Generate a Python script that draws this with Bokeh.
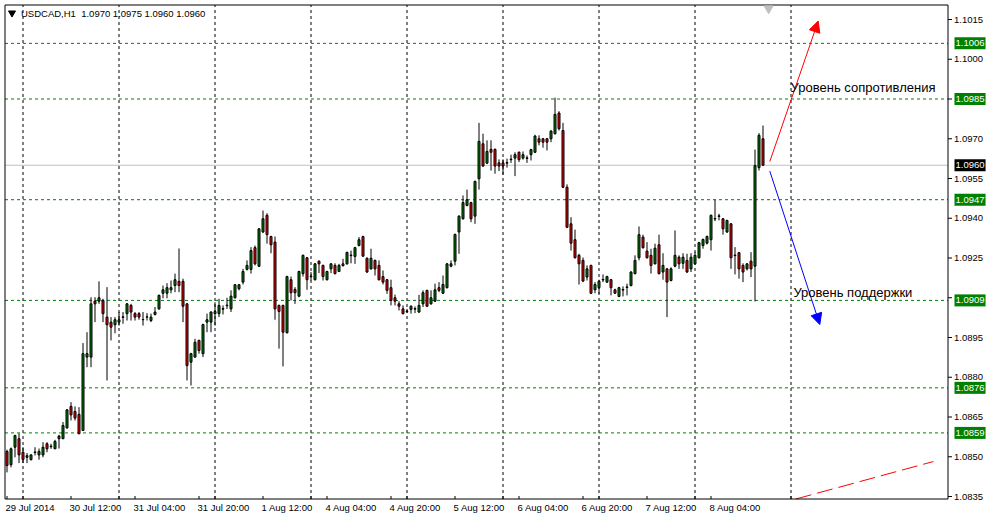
from bokeh.plotting import figure
from bokeh.models import (Range1d, Label, LabelSet, ColumnDataSource, Arrow, NormalHead)
from bokeh.embed import file_html
from bokeh.resources import INLINE
from bokeh.core.properties import value

# ---------------- data (USDCAD, H1) ----------------
symbol = "USDCAD,H1"
last_ohlc = ["1.0970", "1.0975", "1.0960", "1.0960"]

open_ = [
    1.08520, 1.08470, 1.08536, 1.08568, 1.08517, 1.08498, 1.08489, 1.08516, 1.08507, 1.08507,
    1.08549, 1.08538, 1.08530, 1.08568, 1.08568, 1.08609, 1.08690, 1.08671, 1.08660, 1.08599,
    1.08876, 1.08876, 1.09087, 1.09087, 1.09090, 1.09027, 1.09008, 1.08998, 1.09008, 1.09026,
    1.09040, 1.09071, 1.09040, 1.09040, 1.09017, 1.09027, 1.09014, 1.09037, 1.09058, 1.09117,
    1.09117, 1.09130, 1.09146, 1.09162, 1.09162, 1.09077, 1.08857, 1.08876, 1.08939, 1.08889,
    1.09008, 1.09008, 1.09040, 1.09040, 1.09057, 1.09070, 1.09058, 1.09100, 1.09134, 1.09159,
    1.09207, 1.09207, 1.09289, 1.09219, 1.09348, 1.09411, 1.09331, 1.09310, 1.09071, 1.09071,
    1.08968, 1.09168, 1.09131, 1.09106, 1.09191, 1.09251, 1.09179, 1.09168, 1.09238, 1.09222,
    1.09168, 1.09209, 1.09222, 1.09199, 1.09228, 1.09228, 1.09259, 1.09256, 1.09297, 1.09331,
    1.09249, 1.09209, 1.09241, 1.09222, 1.09180, 1.09168, 1.09138, 1.09100, 1.09077, 1.09058,
    1.09048, 1.09056, 1.09057, 1.09046, 1.09077, 1.09128, 1.09077, 1.09087, 1.09138, 1.09117,
    1.09138, 1.09219, 1.09238, 1.09348, 1.09398, 1.09448, 1.09459, 1.09408, 1.09549, 1.09681,
    1.09608, 1.09660, 1.09660, 1.09609, 1.09609, 1.09608, 1.09621, 1.09627, 1.09649, 1.09627,
    1.09626, 1.09640, 1.09649, 1.09700, 1.09700, 1.09700, 1.09700, 1.09719, 1.09797, 1.09731,
    1.09517, 1.09379, 1.09319, 1.09260, 1.09241, 1.09178, 1.09222, 1.09130, 1.09138, 1.09167,
    1.09159, 1.09168, 1.09130, 1.09105, 1.09129, 1.09139, 1.09146, 1.09191, 1.09251, 1.09329,
    1.09276, 1.09260, 1.09228, 1.09300, 1.09197, 1.09209, 1.09165, 1.09219, 1.09253, 1.09230,
    1.09241, 1.09209, 1.09228, 1.09251, 1.09297, 1.09306, 1.09319, 1.09397, 1.09407, 1.09398,
    1.09348, 1.09379, 1.09259, 1.09270, 1.09222, 1.09209, 1.09238, 1.09219, 1.09591, 1.09700,
]
high = [
    1.08527, 1.08535, 1.08583, 1.08588, 1.08536, 1.08514, 1.08509, 1.08536, 1.08531, 1.08555,
    1.08555, 1.08549, 1.08564, 1.08583, 1.08631, 1.08680, 1.08706, 1.08690, 1.08687, 1.08929,
    1.08970, 1.09102, 1.09102, 1.09162, 1.09096, 1.09140, 1.09027, 1.09027, 1.09046, 1.09046,
    1.09080, 1.09077, 1.09046, 1.09046, 1.09046, 1.09042, 1.09040, 1.09065, 1.09112, 1.09146,
    1.09155, 1.09165, 1.09191, 1.09286, 1.09172, 1.09080, 1.08892, 1.08945, 1.08942, 1.09002,
    1.09040, 1.09049, 1.09083, 1.09096, 1.09071, 1.09100, 1.09128, 1.09152, 1.09152, 1.09209,
    1.09241, 1.09291, 1.09297, 1.09363, 1.09429, 1.09419, 1.09334, 1.09331, 1.09074, 1.09074,
    1.09183, 1.09180, 1.09140, 1.09202, 1.09263, 1.09254, 1.09197, 1.09231, 1.09241, 1.09225,
    1.09202, 1.09230, 1.09230, 1.09228, 1.09247, 1.09274, 1.09278, 1.09292, 1.09329, 1.09334,
    1.09252, 1.09285, 1.09244, 1.09241, 1.09203, 1.09171, 1.09168, 1.09112, 1.09087, 1.09071,
    1.09058, 1.09071, 1.09067, 1.09111, 1.09128, 1.09130, 1.09128, 1.09153, 1.09159, 1.09184,
    1.09231, 1.09241, 1.09342, 1.09411, 1.09486, 1.09508, 1.09462, 1.09542, 1.09760, 1.09719,
    1.09694, 1.09694, 1.09663, 1.09622, 1.09622, 1.09625, 1.09640, 1.09649, 1.09652, 1.09652,
    1.09637, 1.09662, 1.09715, 1.09713, 1.09703, 1.09702, 1.09732, 1.09855, 1.09804, 1.09760,
    1.09528, 1.09404, 1.09357, 1.09266, 1.09252, 1.09222, 1.09225, 1.09159, 1.09168, 1.09188,
    1.09183, 1.09171, 1.09134, 1.09141, 1.09143, 1.09153, 1.09200, 1.09260, 1.09369, 1.09338,
    1.09310, 1.09285, 1.09304, 1.09338, 1.09268, 1.09212, 1.09215, 1.09354, 1.09260, 1.09268,
    1.09266, 1.09268, 1.09272, 1.09311, 1.09323, 1.09335, 1.09414, 1.09470, 1.09417, 1.09401,
    1.09394, 1.09382, 1.09291, 1.09273, 1.09230, 1.09230, 1.09272, 1.09659, 1.09721, 1.09750,
]
low = [
    1.08441, 1.08460, 1.08498, 1.08476, 1.08476, 1.08476, 1.08486, 1.08505, 1.08489, 1.08498,
    1.08517, 1.08530, 1.08530, 1.08531, 1.08568, 1.08606, 1.08637, 1.08637, 1.08585, 1.08597,
    1.08838, 1.08838, 1.09008, 1.09077, 1.09008, 1.08788, 1.08939, 1.08966, 1.08995, 1.09002,
    1.09014, 1.09014, 1.09014, 1.09017, 1.08995, 1.09014, 1.09008, 1.09033, 1.09055, 1.09098,
    1.09098, 1.09117, 1.09121, 1.09121, 1.09008, 1.08788, 1.08769, 1.08874, 1.08889, 1.08876,
    1.08970, 1.08970, 1.08995, 1.09027, 1.09037, 1.09058, 1.09046, 1.09097, 1.09128, 1.09150,
    1.09203, 1.09191, 1.09222, 1.09216, 1.09345, 1.09304, 1.09268, 1.09017, 1.08908, 1.08841,
    1.08965, 1.09090, 1.09077, 1.09102, 1.09180, 1.09130, 1.09165, 1.09165, 1.09193, 1.09165,
    1.09165, 1.09193, 1.09188, 1.09197, 1.09218, 1.09225, 1.09230, 1.09228, 1.09294, 1.09254,
    1.09194, 1.09206, 1.09184, 1.09165, 1.09150, 1.09115, 1.09071, 1.09071, 1.09052, 1.09037,
    1.09042, 1.09040, 1.09042, 1.09043, 1.09065, 1.09065, 1.09074, 1.09084, 1.09121, 1.09114,
    1.09135, 1.09215, 1.09222, 1.09266, 1.09395, 1.09445, 1.09385, 1.09379, 1.09508, 1.09594,
    1.09605, 1.09580, 1.09568, 1.09578, 1.09565, 1.09591, 1.09609, 1.09559, 1.09612, 1.09621,
    1.09609, 1.09618, 1.09646, 1.09675, 1.09666, 1.09656, 1.09687, 1.09716, 1.09731, 1.09514,
    1.09363, 1.09278, 1.09248, 1.09150, 1.09159, 1.09165, 1.09114, 1.09117, 1.09115, 1.09159,
    1.09156, 1.09109, 1.09115, 1.09102, 1.09105, 1.09109, 1.09143, 1.09188, 1.09241, 1.09285,
    1.09248, 1.09191, 1.09226, 1.09188, 1.09168, 1.09027, 1.09162, 1.09215, 1.09209, 1.09209,
    1.09194, 1.09197, 1.09225, 1.09248, 1.09285, 1.09301, 1.09278, 1.09389, 1.09392, 1.09338,
    1.09345, 1.09209, 1.09188, 1.09172, 1.09159, 1.09203, 1.09178, 1.09086, 1.09580, 1.09600,
]
close = [
    1.08467, 1.08530, 1.08580, 1.08507, 1.08490, 1.08504, 1.08507, 1.08518, 1.08520, 1.08536,
    1.08530, 1.08540, 1.08558, 1.08578, 1.08618, 1.08677, 1.08658, 1.08646, 1.08587, 1.08889,
    1.08889, 1.09077, 1.09077, 1.09100, 1.09040, 1.08998, 1.08989, 1.09017, 1.09017, 1.09028,
    1.09077, 1.09046, 1.09027, 1.09027, 1.09018, 1.09028, 1.09027, 1.09046, 1.09109, 1.09130,
    1.09138, 1.09138, 1.09168, 1.09146, 1.09068, 1.08844, 1.08889, 1.08932, 1.08901, 1.08999,
    1.09017, 1.09046, 1.09048, 1.09071, 1.09059, 1.09072, 1.09106, 1.09149, 1.09149, 1.09199,
    1.09222, 1.09278, 1.09228, 1.09360, 1.09398, 1.09338, 1.09300, 1.09058, 1.09048, 1.08970,
    1.09180, 1.09119, 1.09119, 1.09199, 1.09260, 1.09168, 1.09181, 1.09228, 1.09228, 1.09180,
    1.09199, 1.09228, 1.09191, 1.09222, 1.09221, 1.09271, 1.09261, 1.09289, 1.09319, 1.09257,
    1.09197, 1.09249, 1.09209, 1.09168, 1.09159, 1.09128, 1.09090, 1.09087, 1.09068, 1.09040,
    1.09050, 1.09068, 1.09059, 1.09071, 1.09119, 1.09068, 1.09100, 1.09130, 1.09128, 1.09150,
    1.09228, 1.09228, 1.09339, 1.09408, 1.09459, 1.09470, 1.09398, 1.09539, 1.09690, 1.09597,
    1.09652, 1.09649, 1.09597, 1.09597, 1.09597, 1.09610, 1.09623, 1.09640, 1.09621, 1.09640,
    1.09628, 1.09659, 1.09710, 1.09687, 1.09687, 1.09687, 1.09729, 1.09792, 1.09738, 1.09517,
    1.09366, 1.09306, 1.09251, 1.09228, 1.09163, 1.09209, 1.09117, 1.09150, 1.09162, 1.09169,
    1.09180, 1.09138, 1.09117, 1.09138, 1.09131, 1.09141, 1.09197, 1.09241, 1.09338, 1.09289,
    1.09251, 1.09222, 1.09287, 1.09191, 1.09222, 1.09159, 1.09209, 1.09260, 1.09228, 1.09253,
    1.09197, 1.09253, 1.09260, 1.09308, 1.09320, 1.09331, 1.09411, 1.09399, 1.09409, 1.09360,
    1.09392, 1.09251, 1.09261, 1.09209, 1.09197, 1.09228, 1.09209, 1.09599, 1.09713, 1.09600,
]

# time axis (bar index of each label; one bar per hour)
time_labels = ["29 Jul 2014", "30 Jul 12:00", "31 Jul 04:00", "31 Jul 20:00", "1 Aug 12:00",
               "4 Aug 04:00", "4 Aug 20:00", "5 Aug 12:00", "6 Aug 04:00", "6 Aug 20:00",
               "7 Aug 12:00", "8 Aug 04:00"]
time_label_bars = [0, 16, 32, 48, 64, 80, 96, 112, 128, 144, 160, 176]
day_start_bars = [4, 28, 52, 76, 100, 124, 148, 172, 196]

price_ticks = [1.0835, 1.0850, 1.0865, 1.0880, 1.0895, 1.0910, 1.0925,
               1.0940, 1.0955, 1.0970, 1.0985, 1.1000, 1.1015]
levels = [1.1006, 1.0985, 1.0947, 1.0909, 1.0876, 1.0859]
bid_price = 1.0960

resistance_text = "Уровень сопротивления"
support_text = "Уровень поддержки"
resistance_text_pos = (195.9, 1.09893)
support_text_pos = (196.6, 1.09120)
resistance_arrow = (190.7, 1.09614, 202.8, 1.10144)
support_arrow = (190.7, 1.09578, 203.2, 1.08999)
trend_x = [187.6, 231.6]
trend_y = [1.08301, 1.08482]

# ---------------- layout (pixel geometry of the chart window) ----------------
W, H = 987, 514
PX_PER_BAR = 4.0
PX_PER_PRICE = 26500.0
X0 = -1.625                       # bar i is centred on pixel column 6 + 4 i
X1 = X0 + W / PX_PER_BAR
Y1 = 1.1015 + 19 / PX_PER_PRICE   # price at top edge
Y0 = Y1 - H / PX_PER_PRICE


def px_x(px):
    return X0 + px / PX_PER_BAR


def px_y(py):
    return Y1 - py / PX_PER_PRICE


C_LEFT, C_RIGHT = px_x(4.5), px_x(947.5)
C_TOP, C_BOTTOM = px_y(4.5), px_y(498.5)

FONT = "Liberation Sans"
SMALL = "9.5px"
GREEN = "#008000"

# ---------------- derived ----------------
n = len(open_)
assert len(high) == n and len(low) == n and len(close) == n
xs = list(range(n))
tops = [max(o, c) for o, c in zip(open_, close)]
bottoms = [min(o, c) for o, c in zip(open_, close)]
colors = [GREEN if c >= o else "#FF0000" for o, c in zip(open_, close)]
src = ColumnDataSource(dict(x=xs, open=open_, high=high, low=low, close=close,
                            top=tops, bottom=bottoms, color=colors))

p = figure(frame_width=W, frame_height=H, x_range=Range1d(X0, X1), y_range=Range1d(Y0, Y1),
           output_backend="svg", toolbar_location=None, title=None,
           x_axis_location=None, y_axis_location=None, min_border=0)
p.min_border_left = p.min_border_right = p.min_border_top = p.min_border_bottom = 0
p.background_fill_color = "white"
p.border_fill_color = "white"
p.outline_line_color = None
p.grid.visible = False

# vertical day grid (dashed black)
p.segment(x0=day_start_bars, y0=[C_BOTTOM] * len(day_start_bars),
          x1=day_start_bars, y1=[C_TOP] * len(day_start_bars),
          line_color="black", line_dash="3 3", line_width=1)

# level lines and bid line
p.segment(x0=[C_LEFT] * len(levels), y0=levels, x1=[C_RIGHT] * len(levels), y1=levels,
          line_color=GREEN, line_dash="3 3", line_width=1)
p.segment(x0=[C_LEFT], y0=[bid_price], x1=[C_RIGHT], y1=[bid_price],
          line_color="#C0C0C0", line_width=1)

# trend line (red dashed), clipped at the chart's bottom edge
slope = (trend_y[1] - trend_y[0]) / (trend_x[1] - trend_x[0])
tx0 = trend_x[0] + (C_BOTTOM - trend_y[0]) / slope if trend_y[0] < C_BOTTOM else trend_x[0]
ty0 = max(trend_y[0], C_BOTTOM)
p.line([tx0, trend_x[1]], [ty0, trend_y[1]], line_color="#FF0000", line_width=1,
       line_dash="16 6")

# candles
p.segment(x0="x", y0="high", x1="x", y1="low", line_color="black", line_width=1, source=src)
p.vbar(x="x", width=0.5, top="top", bottom="bottom", fill_color="color",
       line_color="black", line_width=1, source=src)

# chart frame
p.quad(left=[C_LEFT], right=[C_RIGHT], top=[C_TOP], bottom=[C_BOTTOM],
       fill_color=None, line_color="black", line_width=1)

# bottom ticks (inside the frame)
tick_bars = sorted(time_label_bars + day_start_bars)
p.segment(x0=tick_bars, y0=[C_BOTTOM] * len(tick_bars), x1=tick_bars,
          y1=[C_BOTTOM + 3 / PX_PER_PRICE] * len(tick_bars), line_color="black", line_width=1)

# right ticks (outside the frame)
p.segment(x0=[C_RIGHT] * len(price_ticks), y0=price_ticks,
          x1=[C_RIGHT + 4 / PX_PER_BAR] * len(price_ticks), y1=price_ticks,
          line_color="black", line_width=1)
for pt in price_ticks:
    p.add_layout(Label(x=C_RIGHT, y=pt, x_offset=6, text="%.4f" % pt, text_font=FONT,
                       text_font_size=SMALL, text_color="black", text_align="left",
                       text_baseline="middle"))

# arrows and texts
p.add_layout(Arrow(end=NormalHead(size=11, fill_color="#FF0000", line_color="#FF0000"),
                   x_start=resistance_arrow[0], y_start=resistance_arrow[1],
                   x_end=resistance_arrow[2], y_end=resistance_arrow[3],
                   line_color="#FF0000", line_width=1))
p.add_layout(Arrow(end=NormalHead(size=11, fill_color="#0000FF", line_color="#0000FF"),
                   x_start=support_arrow[0], y_start=support_arrow[1],
                   x_end=support_arrow[2], y_end=support_arrow[3],
                   line_color="#0000FF", line_width=1))
p.add_layout(Label(x=resistance_text_pos[0], y=resistance_text_pos[1], text=resistance_text,
                   text_font=FONT, text_font_size="13px", text_color="black",
                   text_align="left", text_baseline="middle"))
p.add_layout(Label(x=support_text_pos[0], y=support_text_pos[1], text=support_text,
                   text_font=FONT, text_font_size="13px", text_color="black",
                   text_align="left", text_baseline="middle"))

# chart-shift marker and title
p.scatter([190.4], [px_y(8)], marker="inverted_triangle", size=9,
          fill_color="#C0C0C0", line_color="#C0C0C0")
p.scatter([1.25], [px_y(12.5)], marker="inverted_triangle", size=7,
          fill_color="black", line_color="black")
p.add_layout(Label(x=X0, y=Y1, x_offset=20.5, y_offset=-12.7,
                   text=symbol + "\u00a0 " + " ".join(last_ohlc),
                   text_font=FONT, text_font_size=SMALL, text_color="black",
                   text_align="left", text_baseline="middle"))

# time labels
tsrc = ColumnDataSource(dict(x=time_label_bars, y=[C_BOTTOM] * len(time_label_bars),
                             t=time_labels))
p.add_layout(LabelSet(x="x", y="y", text="t", source=tsrc, x_offset=-1.5, y_offset=-3,
                      text_font=value(FONT), text_font_size=value(SMALL), text_color="black",
                      text_align="left", text_baseline="top"))

# price tags on the right axis
for lv in levels:
    p.add_layout(Label(x=C_RIGHT, y=lv, x_offset=6.5, text="%.4f" % lv, text_font=FONT,
                       text_font_size=SMALL, text_color="white", text_align="left",
                       text_baseline="middle", background_fill_color=GREEN,
                       padding=(1, 3)))
p.add_layout(Label(x=C_RIGHT, y=bid_price, x_offset=6.5, text="%.4f" % bid_price,
                   text_font=FONT, text_font_size=SMALL, text_color="white",
                   text_align="left", text_baseline="middle", background_fill_color="black",
                   padding=(1, 3)))

open("out.html", "w", encoding="utf-8").write(file_html(p, INLINE))
